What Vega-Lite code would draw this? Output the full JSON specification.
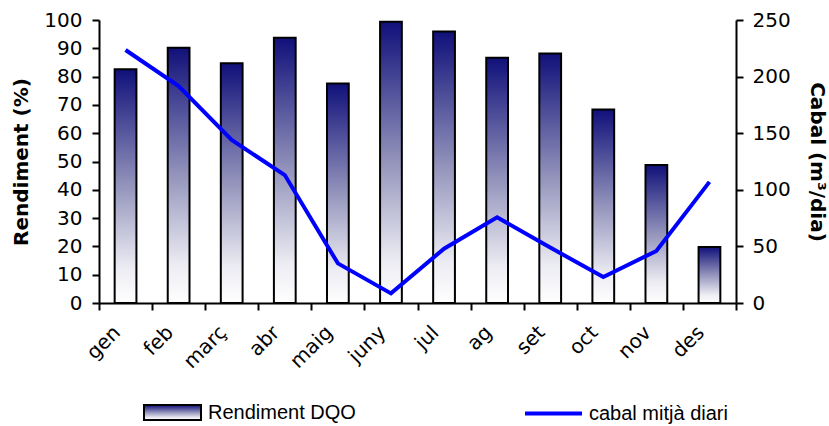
{
  "$schema": "https://vega.github.io/schema/vega-lite/v6.json",
  "width": 637,
  "height": 283,
  "autosize": "none",
  "padding": {"left": 99, "top": 20, "right": 93, "bottom": 123},
  "background": "white",
  "config": {
    "view": {"stroke": null},
    "font": "DejaVu Sans",
    "axis": {
      "grid": false,
      "domainColor": "black",
      "tickColor": "black",
      "labelColor": "black",
      "titleColor": "black",
      "labelFontSize": 20,
      "titleFontSize": 20,
      "titleFontWeight": "bold",
      "domainWidth": 2,
      "tickWidth": 2,
      "tickSize": 7
    },
    "legend": {
      "labelFont": "Liberation Sans",
      "labelFontSize": 20,
      "labelColor": "black"
    }
  },
  "data": {
    "values": [
      {"mes": "gen", "rendiment": 82.6, "cabal": 223.5},
      {"mes": "feb", "rendiment": 90.2, "cabal": 191.7},
      {"mes": "març", "rendiment": 84.7, "cabal": 144},
      {"mes": "abr", "rendiment": 93.7, "cabal": 113},
      {"mes": "maig", "rendiment": 77.6, "cabal": 35},
      {"mes": "juny", "rendiment": 99.4, "cabal": 8.5},
      {"mes": "jul", "rendiment": 95.9, "cabal": 48},
      {"mes": "ag", "rendiment": 86.7, "cabal": 75.7},
      {"mes": "set", "rendiment": 88.2, "cabal": 49},
      {"mes": "oct", "rendiment": 68.4, "cabal": 23},
      {"mes": "nov", "rendiment": 48.8, "cabal": 46},
      {"mes": "des", "rendiment": 19.8, "cabal": 107}
    ]
  },
  "encoding": {
    "x": {
      "field": "mes",
      "type": "nominal",
      "sort": null,
      "scale": {"paddingInner": 0, "paddingOuter": 0},
      "axis": {"title": null, "labelAngle": -45, "tickBand": "extent", "labelPadding": 12, "labelOffset": -16}
    }
  },
  "layer": [
    {
      "mark": {
        "type": "bar",
        "width": {"band": 0.41},
        "strokeWidth": 2,
        "fill": {"gradient": "linear", "x1": 0, "y1": 0, "x2": 0, "y2": 1, "stops": [{"offset": 0, "color": "#10107a"}, {"offset": 0.5, "color": "#9494bc"}, {"offset": 0.85, "color": "#ececf3"}, {"offset": 1, "color": "#ffffff"}]}
      },
      "encoding": {
        "y": {
          "field": "rendiment",
          "type": "quantitative",
          "scale": {"domain": [0, 100]},
          "axis": {"title": "Rendiment (%)", "values": [0, 10, 20, 30, 40, 50, 60, 70, 80, 90, 100], "labelPadding": 10, "titlePadding": 12}
        },
        "stroke": {
          "datum": "Rendiment DQO",
          "type": "nominal",
          "scale": {"range": ["black"]},
          "legend": {
            "title": null, "orient": "none", "legendX": 44, "legendY": 363,
            "symbolType": "M-1,-0.26H1V0.26H-1Z", "symbolSize": 3249, "symbolStrokeWidth": 2, "labelOffset": 6,
            "encode": {"symbols": {"update": {"fill": {"value": {"gradient": "linear", "x1": 0, "y1": 0, "x2": 0, "y2": 1, "stops": [{"offset": 0, "color": "#10107a"}, {"offset": 0.5, "color": "#9494bc"}, {"offset": 1, "color": "#ffffff"}]}}, "fillOpacity": {"value": 1}}}}
          }
        }
      }
    },
    {
      "mark": {"type": "line", "strokeWidth": 4},
      "encoding": {
        "y": {
          "field": "cabal",
          "type": "quantitative",
          "scale": {"domain": [0, 250]},
          "axis": {"orient": "right", "title": "Cabal (m³/dia)", "values": [0, 50, 100, 150, 200, 250], "labelPadding": 9, "titlePadding": 16}
        },
        "stroke": {
          "datum": "cabal mitjà diari",
          "type": "nominal",
          "scale": {"range": ["#0000ff"]},
          "legend": {"title": null, "orient": "none", "legendX": 424, "legendY": 363, "symbolType": "stroke", "symbolSize": 3249, "symbolStrokeWidth": 4, "labelOffset": 5}
        }
      }
    }
  ],
  "resolve": {"scale": {"y": "independent", "stroke": "independent"}}
}
